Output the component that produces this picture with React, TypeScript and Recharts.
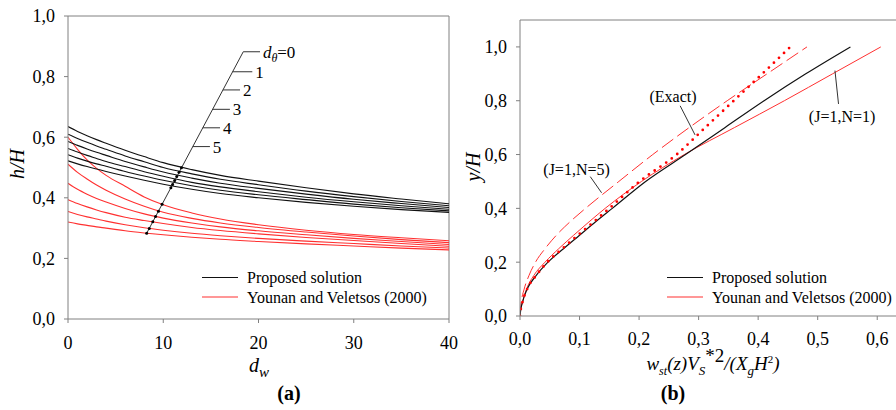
import { LineChart, Line, XAxis, YAxis, ReferenceLine, ReferenceDot } from "recharts";

const FONT = "Liberation Serif";
const AXIS = "#808080";
const RED = "#ff3030";
const INK = "#000";

// ---------- panel (a): h/H against d_w ----------
const dwValues = [0, 1, 2, 3, 4, 6, 8, 10, 13, 16, 20, 25, 30, 35, 40];
const dwTicks = [0, 10, 20, 30, 40];
const hTicks = [0, 0.2, 0.4, 0.6, 0.8, 1.0];

// proposed solution, d_theta = 0 .. 5 (top to bottom)
const proposed0 = [0.635, 0.619, 0.605, 0.592, 0.58, 0.557, 0.536, 0.516, 0.493, 0.474, 0.455, 0.433, 0.413, 0.396, 0.38];
const proposed1 = [0.61, 0.596, 0.583, 0.571, 0.56, 0.538, 0.519, 0.5, 0.479, 0.461, 0.443, 0.422, 0.404, 0.388, 0.374];
const proposed2 = [0.586, 0.573, 0.561, 0.55, 0.54, 0.52, 0.502, 0.485, 0.465, 0.448, 0.431, 0.412, 0.395, 0.381, 0.368];
const proposed3 = [0.563, 0.551, 0.54, 0.53, 0.52, 0.503, 0.486, 0.471, 0.451, 0.436, 0.42, 0.402, 0.387, 0.374, 0.362];
const proposed4 = [0.542, 0.531, 0.521, 0.512, 0.504, 0.487, 0.472, 0.458, 0.44, 0.425, 0.41, 0.394, 0.379, 0.367, 0.357];
const proposed5 = [0.522, 0.512, 0.503, 0.495, 0.487, 0.472, 0.458, 0.445, 0.428, 0.414, 0.4, 0.385, 0.372, 0.361, 0.352];

// Younan and Veletsos (2000)
const younan0 = [0.6, 0.56, 0.525, 0.497, 0.474, 0.438, 0.403, 0.377, 0.35, 0.33, 0.311, 0.293, 0.279, 0.268, 0.258];
const younan1 = [0.511, 0.484, 0.462, 0.442, 0.425, 0.396, 0.372, 0.352, 0.332, 0.317, 0.302, 0.287, 0.274, 0.262, 0.252];
const younan2 = [0.448, 0.428, 0.412, 0.398, 0.386, 0.365, 0.347, 0.333, 0.317, 0.304, 0.291, 0.278, 0.266, 0.256, 0.246];
const younan3 = [0.394, 0.381, 0.37, 0.36, 0.351, 0.336, 0.325, 0.315, 0.302, 0.292, 0.281, 0.269, 0.259, 0.249, 0.24];
const younan4 = [0.355, 0.345, 0.337, 0.33, 0.323, 0.311, 0.301, 0.293, 0.283, 0.275, 0.266, 0.257, 0.249, 0.241, 0.234];
const younan5 = [0.32, 0.314, 0.309, 0.304, 0.3, 0.291, 0.284, 0.278, 0.27, 0.263, 0.256, 0.248, 0.241, 0.234, 0.228];

// leader line through the curves, with the d_theta marks
const leaderDw = [8.26, 18.4];
const leaderH = [0.283, 0.882];
const crossDw = [11.91, 11.66, 11.42, 11.2, 10.98, 10.8, 9.88, 9.5, 9.19, 8.9, 8.53, 8.26];
const crossH = [0.499, 0.484, 0.47, 0.457, 0.444, 0.433, 0.379, 0.356, 0.338, 0.321, 0.299, 0.283];
const thetaNames = ["0", "1", "2", "3", "4", "5"];
const thetaH = [0.882, 0.816, 0.756, 0.692, 0.631, 0.569];
const thetaFrom = [18.4, 17.28, 16.26, 15.18, 14.15, 13.1];
const thetaTo = [20.16, 19.35, 18.06, 17.0, 15.96, 14.9];

// ---------- panel (b): y/H against w_st ----------
const yRatio = [0, 0.02, 0.05, 0.1, 0.15, 0.2, 0.25, 0.3, 0.35, 0.4, 0.5, 0.6, 0.7, 0.8, 0.9, 1.0];
const proposedW = [0, 0.001, 0.004, 0.012, 0.027, 0.047, 0.073, 0.1, 0.127, 0.155, 0.211, 0.278, 0.344, 0.41, 0.48, 0.555];
const younanN1 = [0, 0.001, 0.004, 0.011, 0.023, 0.042, 0.065, 0.09, 0.116, 0.143, 0.204, 0.276, 0.36, 0.444, 0.525, 0.606];
const younanN5 = [0, 0.0005, 0.002, 0.007, 0.015, 0.026, 0.042, 0.061, 0.084, 0.11, 0.166, 0.223, 0.284, 0.348, 0.415, 0.482];
const exactW = [0, 0.001, 0.004, 0.012, 0.027, 0.046, 0.071, 0.097, 0.124, 0.15, 0.201, 0.263, 0.311, 0.359, 0.407, 0.454];
const wTicks = [0, 0.1, 0.2, 0.3, 0.4, 0.5, 0.6];

const noteText = ["(Exact)", "(J=1,N=5)", "(J=1,N=1)"];
const noteX = [0.257, 0.095, 0.541];
const noteY = [0.816, 0.543, 0.743];
const pointerFromX = [0.269, 0.118, 0.535];
const pointerFromY = [0.781, 0.518, 0.788];
const pointerToX = [0.294, 0.137, 0.529];
const pointerToY = [0.673, 0.458, 0.912];

const pts = (xs: number[], ys: number[]) => xs.map((x, i) => ({ x, y: ys[i] }));
const comma = (v: number) => v.toFixed(1).replace(".", ",");

const tickStyle = { fill: INK, fontSize: 18, fontFamily: FONT, style: { fontFamily: FONT } };

function ThetaTag(props: any) {
  const { viewBox, name } = props;
  if (!viewBox) return null;
  if (name === "0") {
    return (
      <text x={viewBox.x} y={viewBox.y} dy="0.35em" style={{ fontFamily: FONT }} fontSize={17} fill={INK}>
        <tspan fontStyle="italic">d</tspan>
        <tspan fontStyle="italic" fontSize={12} dy={4}>θ</tspan>
        <tspan dy={-4}>=0</tspan>
      </text>
    );
  }
  return (
    <text x={viewBox.x} y={viewBox.y} dy="0.35em" style={{ fontFamily: FONT }} fontSize={17} fill={INK}>
      {name}
    </text>
  );
}

function NoteTag(props: any) {
  const { viewBox, text } = props;
  if (!viewBox) return null;
  return (
    <text x={viewBox.x} y={viewBox.y} dy="0.35em" textAnchor="middle" style={{ fontFamily: FONT }} fontSize={16} fill={INK}>
      {text}
    </text>
  );
}

function PanelA() {
  const proposed = [proposed0, proposed1, proposed2, proposed3, proposed4, proposed5];
  const younan = [younan0, younan1, younan2, younan3, younan4, younan5];
  return (
    <LineChart width={460} height={410} margin={{ top: 16, right: 11, left: 8, bottom: 51 }}>
      <XAxis
        type="number"
        dataKey="x"
        domain={[0, 40]}
        ticks={dwTicks}
        allowDataOverflow
        height={40}
        tick={tickStyle}
        tickSize={4}
        tickMargin={13}
        axisLine={{ stroke: AXIS }}
        tickLine={{ stroke: AXIS }}
      />
      <YAxis
        type="number"
        dataKey="y"
        domain={[0, 1]}
        ticks={hTicks}
        allowDataOverflow
        width={60}
        tickFormatter={comma}
        tick={tickStyle}
        tickSize={4}
        tickMargin={9}
        axisLine={{ stroke: AXIS }}
        tickLine={{ stroke: AXIS }}
      />
      <ReferenceLine y={1} stroke={AXIS} />
      <ReferenceLine x={40} stroke={AXIS} />

      {younan.map((ys, i) => (
        <Line
          key={"y" + i}
          data={pts(dwValues, ys)}
          dataKey="y"
          type="monotone"
          stroke={RED}
          strokeWidth={1.1}
          dot={false}
          activeDot={false}
          isAnimationActive={false}
        />
      ))}
      {proposed.map((ys, i) => (
        <Line
          key={"p" + i}
          data={pts(dwValues, ys)}
          dataKey="y"
          type="monotone"
          stroke="#111"
          strokeWidth={1.1}
          dot={false}
          activeDot={false}
          isAnimationActive={false}
        />
      ))}

      <ReferenceLine
        segment={[
          { x: leaderDw[0], y: leaderH[0] },
          { x: leaderDw[1], y: leaderH[1] },
        ]}
        stroke="#333"
      />
      {thetaNames.map((n, i) => (
        <ReferenceLine
          key={"t" + n}
          segment={[
            { x: thetaFrom[i], y: thetaH[i] },
            { x: thetaTo[i], y: thetaH[i] },
          ]}
          stroke="#333"
        />
      ))}
      {thetaNames.map((n, i) => (
        <ReferenceDot
          key={"l" + n}
          x={thetaTo[i] + 0.3}
          y={thetaH[i]}
          r={0}
          stroke="none"
          fill="none"
          label={<ThetaTag name={n} />}
        />
      ))}
      <Line
        data={pts(crossDw, crossH)}
        dataKey="y"
        type="linear"
        stroke="none"
        dot={{ r: 1.5, fill: INK, stroke: "none" }}
        activeDot={false}
        isAnimationActive={false}
      />
    </LineChart>
  );
}

function PanelB() {
  return (
    <LineChart width={480} height={410} margin={{ top: 20, right: 13, left: 10, bottom: 64 }}>
      <XAxis
        type="number"
        dataKey="x"
        domain={[0, 0.65]}
        ticks={wTicks}
        allowDataOverflow
        height={30}
        tickFormatter={comma}
        tick={tickStyle}
        tickSize={4}
        tickMargin={12}
        axisLine={{ stroke: AXIS }}
        tickLine={{ stroke: AXIS }}
      />
      <YAxis
        type="number"
        dataKey="y"
        domain={[0, 1.1]}
        ticks={hTicks}
        allowDataOverflow
        width={70}
        tickFormatter={comma}
        tick={tickStyle}
        tickSize={4}
        tickMargin={9}
        axisLine={{ stroke: AXIS }}
        tickLine={{ stroke: AXIS }}
      />
      <ReferenceLine y={1.1} stroke={AXIS} />

      <Line
        data={pts(younanN5, yRatio)}
        dataKey="y"
        type="monotone"
        stroke={RED}
        strokeWidth={1}
        strokeDasharray="14 5"
        dot={false}
        activeDot={false}
        isAnimationActive={false}
      />
      <Line
        data={pts(younanN1, yRatio)}
        dataKey="y"
        type="monotone"
        stroke={RED}
        strokeWidth={1}
        dot={false}
        activeDot={false}
        isAnimationActive={false}
      />
      <Line
        data={pts(proposedW, yRatio)}
        dataKey="y"
        type="monotone"
        stroke="#111"
        strokeWidth={1.2}
        dot={false}
        activeDot={false}
        isAnimationActive={false}
      />
      <Line
        data={pts(exactW, yRatio)}
        dataKey="y"
        type="monotone"
        stroke="#ff0000"
        strokeWidth={2.8}
        strokeDasharray="0 7"
        strokeLinecap="round"
        dot={false}
        activeDot={false}
        isAnimationActive={false}
      />

      {noteText.map((t, i) => (
        <ReferenceLine
          key={"s" + i}
          segment={[
            { x: pointerFromX[i], y: pointerFromY[i] },
            { x: pointerToX[i], y: pointerToY[i] },
          ]}
          stroke="#333"
        />
      ))}
      {noteText.map((t, i) => (
        <ReferenceDot
          key={"n" + i}
          x={noteX[i]}
          y={noteY[i]}
          r={0}
          stroke="none"
          fill="none"
          label={<NoteTag text={t} />}
        />
      ))}
    </LineChart>
  );
}

function LegendRows({ x }: { x: number }) {
  return (
    <g style={{ fontFamily: FONT }} fontSize={16} fill={INK}>
      <line x1={x} x2={x + 36} y1={277.5} y2={277.5} stroke="#111" strokeWidth={1.1} />
      <text x={x + 45} y={277.5} dy="0.35em">Proposed solution</text>
      <line x1={x} x2={x + 36} y1={297} y2={297} stroke={RED} strokeWidth={1.1} />
      <text x={x + 45} y={297} dy="0.35em">Younan and Veletsos (2000)</text>
    </g>
  );
}

export default function App() {
  return (
    <div
      style={{
        position: "absolute",
        left: 0,
        top: 0,
        width: 896,
        height: 410,
        overflow: "hidden",
        background: "#fff",
        fontFamily: FONT,
      }}
    >
      <div style={{ position: "absolute", left: 0, top: 0 }}>
        <PanelA />
      </div>
      <div style={{ position: "absolute", left: 440, top: 0 }}>
        <PanelB />
      </div>

      <svg
        width={896}
        height={410}
        style={{ position: "absolute", left: 0, top: 0, pointerEvents: "none" }}
      >
        <LegendRows x={202} />
        <LegendRows x={667} />

        <g style={{ fontFamily: FONT }} fill={INK}>
          <text transform="translate(24,164) rotate(-90)" textAnchor="middle" fontSize={20} fontStyle="italic">
            h/H
          </text>
          <text x={259} y={372} textAnchor="middle" fontSize={20} fontStyle="italic">
            d<tspan fontSize={15} dy={5}>w</tspan>
          </text>
          <text x={289} y={400} textAnchor="middle" fontSize={20} fontWeight="bold">
            (a)
          </text>

          <text transform="translate(480,167) rotate(-90)" textAnchor="middle" fontSize={20} fontStyle="italic">
            y/H
          </text>
          <text x={713} y={370} textAnchor="middle" fontSize={19} fontStyle="italic">
            w<tspan fontSize={12} dy={5}>st</tspan>
            <tspan dy={-5}>(z)V</tspan>
            <tspan fontSize={13} dy={5}>S</tspan>
            <tspan fontStyle="normal" dy={-13}>*2</tspan>
            <tspan dy={8}>/(X</tspan>
            <tspan fontSize={13} dy={5}>g</tspan>
            <tspan dy={-5}>H</tspan>
            <tspan fontSize={11} fontStyle="normal" dy={-7}>2</tspan>
            <tspan dy={7}>)</tspan>
          </text>
          <text x={673} y={400} textAnchor="middle" fontSize={20} fontWeight="bold">
            (b)
          </text>
        </g>
      </svg>
    </div>
  );
}
